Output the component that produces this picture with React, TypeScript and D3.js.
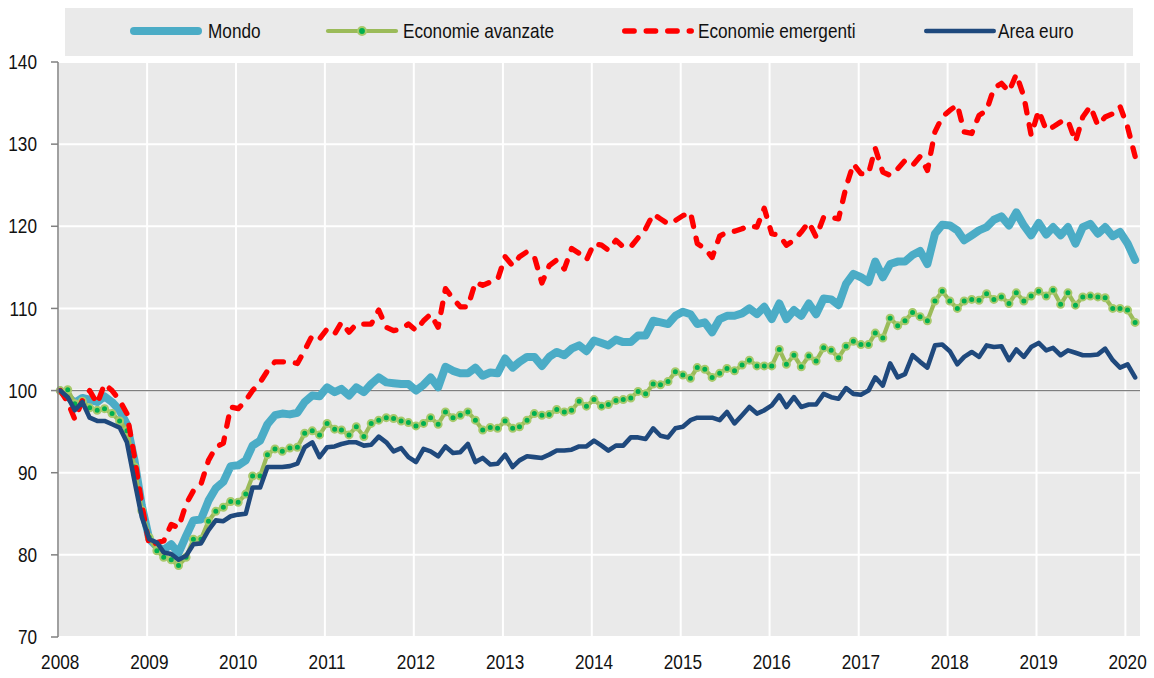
import React from "react";
import * as d3 from "d3";

const START_YEAR = 2008;
const yearTicks = [2008, 2009, 2010, 2011, 2012, 2013, 2014, 2015, 2016, 2017, 2018, 2019, 2020];
const yTicks = [70, 80, 90, 100, 110, 120, 130, 140];
const seriesNames = ["Mondo", "Economie avanzate", "Economie emergenti", "Area euro"];

const mondo = [
  100.0, 99.3, 98.5, 99.1, 98.9, 98.6, 99.3, 98.6, 97.6, 95.9, 91.5, 86.0,
  81.9, 81.0, 80.6, 81.3, 80.2, 82.3, 84.2, 84.3, 86.6, 88.1, 88.9, 90.8,
  90.9, 91.5, 93.3, 93.9, 95.9, 97.0, 97.2, 97.1, 97.3, 98.6, 99.4, 99.3,
  100.4, 99.8, 100.2, 99.4, 100.4, 99.8, 100.8, 101.6, 101.0, 100.9, 100.8, 100.8,
  100.0, 100.7, 101.6, 100.4, 102.9, 102.4, 102.1, 102.1, 102.8, 101.8, 102.2, 102.1,
  103.9, 102.8, 103.5, 104.1, 104.1, 103.0, 104.1, 104.7, 104.3, 105.1, 105.5, 104.8,
  106.1, 105.8, 105.5, 106.2, 105.9, 105.9, 106.7, 106.7, 108.5, 108.3, 108.1, 109.1,
  109.6, 109.3, 108.1, 108.3, 107.1, 108.7, 109.1, 109.1, 109.4, 110.0, 109.3, 110.2,
  108.7, 110.6, 108.7, 109.8, 109.1, 110.6, 109.3, 111.2, 111.1, 110.4, 113.0, 114.2,
  113.8, 113.2, 115.7, 113.8, 115.4, 115.7, 115.7, 116.5, 117.0, 115.4, 119.1, 120.2,
  120.1, 119.5, 118.3, 118.9, 119.5, 119.9, 120.8, 121.2, 120.1, 121.7, 120.1, 118.9,
  120.4, 119.0, 119.9, 118.9, 119.9, 117.9, 119.9, 120.3, 119.1, 119.9, 118.8, 119.3,
  117.9, 115.9,
];

const avanzate = [
  100.0, 100.1, 98.4, 98.7, 97.9, 97.6, 97.8, 97.2, 96.3, 95.1, 90.7, 85.4,
  82.1, 80.5, 79.7, 79.4, 78.7, 79.7, 81.9, 81.9, 84.1, 85.3, 85.8, 86.5,
  86.4, 87.4, 89.6, 89.6, 92.2, 92.9, 92.6, 93.0, 93.1, 94.8, 95.1, 94.6,
  96.0, 95.3, 95.2, 94.6, 95.6, 94.4, 96.0, 96.4, 96.7, 96.6, 96.3, 96.1,
  95.7, 96.0, 96.7, 95.9, 97.4, 96.7, 97.0, 97.4, 96.4, 95.2, 95.5, 95.4,
  96.3, 95.4, 95.6, 96.4, 97.2, 97.0, 97.1, 97.7, 97.4, 97.6, 98.7, 98.1,
  98.9, 98.1, 98.3, 98.8, 98.9, 99.1, 99.9, 99.6, 100.8, 100.7, 101.1, 102.3,
  101.9, 101.5, 102.8, 102.6, 101.6, 102.1, 102.7, 102.4, 103.1, 103.7, 103.0, 103.0,
  103.0, 105.0, 103.2, 104.3, 102.9, 104.2, 103.6, 105.2, 104.9, 104.0, 105.4, 106.0,
  105.6, 105.6, 107.0, 106.4, 108.8, 107.9, 108.5, 109.5, 109.0, 108.5, 110.9, 112.1,
  110.9, 110.0, 110.9, 111.1, 111.0, 111.8, 111.1, 111.4, 110.6, 111.9, 110.9, 111.5,
  112.1, 111.5, 112.2, 110.5, 111.9, 110.4, 111.4, 111.5, 111.4, 111.3, 110.0, 110.0,
  109.8, 108.3,
];

const emergenti = [
  100.0, 98.6, 96.5, 98.8, 100.0, 98.4, 100.8, 100.0, 98.8, 97.2, 91.9, 86.2,
  81.1, 81.5, 81.7, 83.7, 83.3, 86.2, 87.8, 88.6, 91.5, 93.1, 93.6, 98.0,
  97.8, 98.8, 100.0, 101.0, 102.4, 103.5, 103.5, 103.5, 103.3, 104.9, 106.7, 106.3,
  107.5, 106.9, 108.3, 107.1, 108.1, 108.1, 108.1, 109.8, 107.7, 107.3, 107.5, 108.1,
  107.3, 108.5, 109.3, 107.7, 112.4, 111.2, 110.2, 110.2, 113.2, 112.8, 113.2, 113.5,
  116.3, 115.2, 116.3, 116.9, 116.3, 113.1, 115.2, 115.9, 114.8, 117.3, 116.7, 115.9,
  117.9, 117.7, 117.1, 118.3, 117.5, 117.5, 118.6, 119.7, 121.5, 120.9, 120.3, 120.7,
  121.3, 121.7, 117.9, 117.3, 116.2, 118.8, 119.3, 119.4, 119.7, 120.1, 119.9, 122.2,
  119.1, 118.9, 117.7, 118.3, 119.3, 120.5, 118.7, 121.1, 121.1, 120.9, 124.8, 127.6,
  126.4, 126.4, 129.5, 126.6, 126.2, 127.0, 128.0, 127.4, 128.5, 126.8, 131.5, 133.3,
  134.1, 134.8, 131.5, 131.3, 133.5, 134.1, 136.8, 137.4, 136.4, 138.5, 135.8, 131.1,
  134.1, 131.7, 132.1, 132.7, 132.9, 130.3, 133.3, 134.6, 132.3, 133.3, 133.7, 134.6,
  132.1, 128.5,
];

const areaEuro = [
  100.0, 99.2, 97.6, 98.6, 96.7, 96.3, 96.3, 95.9, 95.5, 93.7, 89.0, 84.6,
  81.9, 81.5, 80.3, 80.1, 79.4, 79.9, 81.3, 81.4, 83.0, 84.2, 84.1, 84.7,
  84.9, 85.0, 88.2, 88.2, 90.7, 90.7, 90.7, 90.8, 91.1, 93.1, 93.7, 91.9,
  93.1, 93.2, 93.5, 93.7, 93.7, 93.3, 93.4, 94.4, 93.7, 92.6, 93.0, 91.9,
  91.3, 92.9, 92.6, 92.0, 93.2, 92.4, 92.5, 93.5, 91.3, 91.8, 91.0, 91.1,
  92.2, 90.7, 91.5, 92.0, 91.9, 91.8, 92.2, 92.7, 92.7, 92.8, 93.2, 93.2,
  93.9, 93.3, 92.7, 93.3, 93.3, 94.3, 94.3, 94.1, 95.4, 94.5, 94.3, 95.4,
  95.6, 96.4, 96.7, 96.7, 96.7, 96.4, 97.4, 96.0, 97.0, 98.0, 97.2, 97.6,
  98.2, 99.4, 98.0, 99.2, 98.0, 98.3, 98.3, 99.6, 99.2, 99.0, 100.3, 99.6,
  99.5, 100.0, 101.6, 100.6, 103.3, 101.6, 102.0, 104.3, 103.5, 102.8, 105.5, 105.6,
  104.8, 103.2, 104.1, 104.7, 104.1, 105.5, 105.3, 105.4, 103.7, 105.0, 104.1, 105.3,
  105.8, 104.9, 105.2, 104.3, 104.9, 104.6, 104.3, 104.3, 104.4, 105.1, 103.7, 102.8,
  103.2, 101.6,
];

const FONT = "'Liberation Sans', Arial, Helvetica, sans-serif";
const SX = 0.86;

function Label(props: { x: number; y: number; anchor?: string; children: React.ReactNode }) {
  return (
    <g transform={`translate(${props.x},${props.y}) scale(${SX},1)`}>
      <text textAnchor={props.anchor || "start"} fontFamily={FONT} fontSize={20} fill="#111">
        {props.children}
      </text>
    </g>
  );
}

export default function App() {
  const W = 1154;
  const H = 678;
  const left = 58;
  const right = 1140;
  const top = 62;
  const bottom = 637;

  const dateOf = (i: number) => new Date(START_YEAR, i, 10);
  const x = d3.scaleTime().domain([new Date(2008, 0, 1), new Date(2020, 2, 1)]).range([left, right]);
  const y = d3.scaleLinear().domain([70, 140]).range([bottom, top]);

  const line = d3
    .line<number>()
    .x((_d, i) => x(dateOf(i)))
    .y((d) => y(d));

  const colors = {
    mondo: "#4BACC6",
    avz: "#9BBB59",
    dot: "#00B050",
    ring: "#A8C96C",
    emg: "#FF0000",
    euro: "#1F497D",
  };

  const legY = 31;
  const legStarts = [130, 326, 622, 924];
  const legLen = 72;

  return (
    <div style={{ position: "absolute", left: 0, top: 0 }}>
      <svg width={W} height={H} style={{ display: "block", background: "#fff" }}>
        <rect x={65} y={8} width={1068} height={48} fill="#EAEAEA" />
        <rect x={left} y={top} width={right - left} height={bottom - top} fill="#EAEAEA" />
        {yTicks.map((t) => (
          <line key={"hy" + t} x1={left} x2={right} y1={y(t)} y2={y(t)} stroke="#fff" strokeWidth={2} />
        ))}
        {yearTicks.map((yr) => (
          <line
            key={"vx" + yr}
            x1={x(new Date(yr, 0, 1))}
            x2={x(new Date(yr, 0, 1))}
            y1={top}
            y2={bottom}
            stroke="#fff"
            strokeWidth={2}
          />
        ))}
        <line x1={left} x2={right} y1={y(100)} y2={y(100)} stroke="#7F7F7F" strokeWidth={1.3} />

        <path d={line(mondo) || ""} fill="none" stroke={colors.mondo} strokeWidth={8} strokeLinejoin="round" strokeLinecap="round" />
        <path d={line(avanzate) || ""} fill="none" stroke={colors.avz} strokeWidth={4.2} strokeLinejoin="round" />
        {avanzate.map((v, i) => (
          <circle key={"d" + i} cx={x(dateOf(i))} cy={y(v)} r={3.5} fill={colors.dot} stroke={colors.ring} strokeWidth={2} />
        ))}
        <path
          d={line(emergenti) || ""}
          fill="none"
          stroke={colors.emg}
          strokeWidth={5.3}
          strokeDasharray="9.5 12"
          strokeLinecap="round"
          strokeLinejoin="round"
        />
        <path d={line(areaEuro) || ""} fill="none" stroke={colors.euro} strokeWidth={4.6} strokeLinejoin="round" strokeLinecap="round" />

        <line x1={left} x2={left} y1={top} y2={bottom} stroke="#808080" strokeWidth={1.5} />
        {yTicks.map((t) => (
          <g key={"yt" + t}>
            <line x1={51} x2={left} y1={y(t)} y2={y(t)} stroke="#808080" strokeWidth={1.5} />
            <Label x={37} y={y(t) + 7.2} anchor="end">
              {t}
            </Label>
          </g>
        ))}
        {yearTicks.map((yr) => (
          <Label key={"xl" + yr} x={x(dateOf((yr - START_YEAR) * 12))} y={669} anchor="middle">
            {yr}
          </Label>
        ))}

        <line x1={legStarts[0] + 4} x2={legStarts[0] + legLen - 4} y1={legY} y2={legY} stroke={colors.mondo} strokeWidth={8} strokeLinecap="round" />
        <Label x={legStarts[0] + 78} y={legY + 7}>{seriesNames[0]}</Label>

        <line x1={legStarts[1] + 2} x2={legStarts[1] + legLen - 2} y1={legY} y2={legY} stroke={colors.avz} strokeWidth={4.2} strokeLinecap="round" />
        <circle cx={legStarts[1] + legLen / 2} cy={legY} r={4} fill={colors.dot} stroke={colors.ring} strokeWidth={2.2} />
        <Label x={legStarts[1] + 77} y={legY + 7}>{seriesNames[1]}</Label>

        <line
          x1={legStarts[2] + 2.7}
          x2={legStarts[2] + legLen - 2.7}
          y1={legY}
          y2={legY}
          stroke={colors.emg}
          strokeWidth={5.3}
          strokeDasharray="9.5 12"
          strokeLinecap="round"
        />
        <Label x={legStarts[2] + 76} y={legY + 7}>{seriesNames[2]}</Label>

        <line x1={legStarts[3] + 2.3} x2={legStarts[3] + legLen - 2.3} y1={legY} y2={legY} stroke={colors.euro} strokeWidth={4.6} strokeLinecap="round" />
        <Label x={legStarts[3] + 74} y={legY + 7}>{seriesNames[3]}</Label>
      </svg>
    </div>
  );
}
